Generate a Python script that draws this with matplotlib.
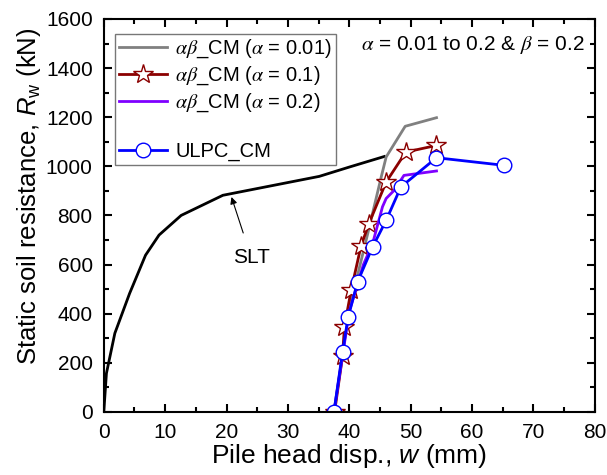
import numpy as np
import matplotlib
matplotlib.use("Agg")
import matplotlib.pyplot as plt
from matplotlib.lines import Line2D
from matplotlib.ticker import MultipleLocator

plt.rcParams['font.family'] = ['Liberation Sans', 'DejaVu Sans']
plt.rcParams['mathtext.fontset'] = 'stix'
plt.rcParams['mathtext.rm'] = 'Liberation Sans'
plt.rcParams['mathtext.it'] = 'Liberation Sans:italic'

# static load test
slt_w = [0, 0.43, 1.8, 4.2, 6.8, 9.0, 12.6, 19.4, 35.1, 40.0, 45.7]
slt_r = [0, 157, 320, 482, 638, 720, 800, 882, 959, 997, 1040]

# alpha-beta CM, alpha = 0.01
a001_w = [37.5, 40.0, 43.0, 45.2, 46.0, 49.1, 54.2]
a001_r = [0, 420, 726, 957, 1038, 1163, 1198]

# alpha-beta CM, alpha = 0.1
a01_w = [37.6, 38.9, 39.2, 40.3, 41.9, 43.2, 46.0, 49.2, 54.2]
a01_r = [0, 228, 347, 496, 675, 767, 936, 1058, 1085]

# alpha-beta CM, alpha = 0.2
a02_w = [37.5, 40.0, 42.3, 43.8, 45.4, 46.0, 47.3, 48.9, 54.2]
a02_r = [0, 410, 600, 686, 835, 869, 902, 963, 981]

# ULPC CM
ulpc_w = [37.5, 38.9, 39.8, 41.35, 43.8, 46.0, 48.4, 54.2, 65.2]
ulpc_r = [0, 245, 385, 530, 672, 780, 916, 1035, 1004]

fig = plt.figure(figsize=(6.07, 4.75), dpi=100)
ax = fig.add_axes([0.171, 0.133, 0.809, 0.827])

ax.plot(slt_w, slt_r, color='black', lw=2.0)
ax.plot(a001_w, a001_r, color='#808080', lw=2.0,
        label=r"$\alpha\beta$_CM ($\alpha$ = 0.01)")
ax.plot(a01_w, a01_r, color='#8B0000', lw=2.0, marker='*', markersize=15,
        markerfacecolor='white', markeredgecolor='#8B0000', markeredgewidth=1.0,
        label=r"$\alpha\beta$_CM ($\alpha$ = 0.1)")
ax.plot(a02_w, a02_r, color='#7F00FF', lw=2.0,
        label=r"$\alpha\beta$_CM ($\alpha$ = 0.2)")
ax.plot(ulpc_w, ulpc_r, color='#0000FF', lw=2.0, marker='o', markersize=10.5,
        markerfacecolor='white', markeredgecolor='#0000FF', markeredgewidth=1.0,
        label="ULPC_CM")

ax.annotate("SLT", xy=(20.8, 875), xytext=(24.0, 630), fontsize=15,
            ha='center', va='center',
            arrowprops=dict(arrowstyle='-|>', color='black', lw=0.8,
                            shrinkA=9, shrinkB=0, mutation_scale=10))

ax.text(0.98, 0.935, r"$\alpha$ = 0.01 to 0.2 & $\beta$ = 0.2",
        transform=ax.transAxes, ha='right', va='center', fontsize=15)

handles, labels = ax.get_legend_handles_labels()
blank = Line2D([], [], color='none')
handles = handles[:3] + [blank] + handles[3:]
labels = labels[:3] + [" "] + labels[3:]
leg = ax.legend(handles, labels, loc='upper left', bbox_to_anchor=(0.022, 0.962),
                fontsize=14.5, frameon=True, fancybox=False, edgecolor='#555555',
                handlelength=2.4, handletextpad=0.4, borderpad=0.2,
                labelspacing=0.22, borderaxespad=0)
leg.get_frame().set_linewidth(1.0)

ax.set_xlim(0, 80)
ax.set_ylim(0, 1600)
ax.xaxis.set_major_locator(MultipleLocator(10))
ax.xaxis.set_minor_locator(MultipleLocator(5))
ax.yaxis.set_major_locator(MultipleLocator(200))
ax.yaxis.set_minor_locator(MultipleLocator(100))
ax.tick_params(which='both', direction='in', top=True, right=True, width=1.5,
               labelsize=15)
ax.tick_params(which='major', length=6)
ax.tick_params(which='minor', length=3.5)
ax.tick_params(axis='x', which='major', pad=8)
ax.tick_params(axis='y', which='major', pad=8)
for s in ax.spines.values():
    s.set_linewidth(1.5)

ax.set_xlabel(r"Pile head disp., $w$ (mm)", fontsize=19, labelpad=0,
              math_fontfamily='custom')
ax.set_ylabel(r"Static soil resistance, $R_{\rm w}$ (kN)", fontsize=18.5,
              math_fontfamily='custom')
# label sits a bit above the axes centre in the original
ax.yaxis.set_label_coords(-0.124, 0.548)

fig.savefig("out.png", dpi=100)
